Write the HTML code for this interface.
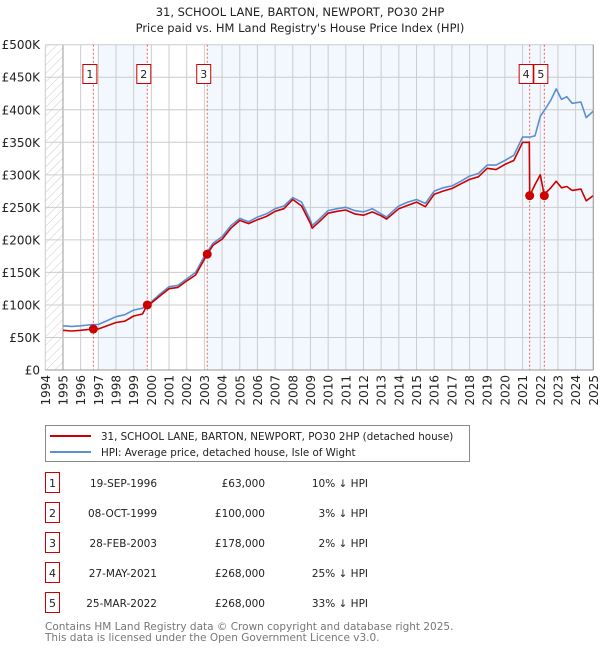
<!DOCTYPE html>
<html><head><meta charset="utf-8"><style>
body{margin:0;background:#fff;width:600px;height:650px;overflow:hidden;font-family:"Liberation Sans","DejaVu Sans",sans-serif;}
svg{position:absolute;left:0;top:0}
</style></head><body>
<svg id="c" width="600" height="650" xmlns="http://www.w3.org/2000/svg" font-family="DejaVu Sans, Liberation Sans, sans-serif">
<defs><pattern id="hatch" width="6" height="6" patternUnits="userSpaceOnUse" patternTransform="rotate(45)"><line x1="0" y1="0" x2="0" y2="6" stroke="#ccc" stroke-width="1"/></pattern></defs>
<text x="300" y="16" text-anchor="middle" font-size="11.5" fill="#222">31, SCHOOL LANE, BARTON, NEWPORT, PO30 2HP</text>
<text x="300" y="32" text-anchor="middle" font-size="11.5" fill="#222">Price paid vs. HM Land Registry's House Price Index (HPI)</text>
<g id="plot"></g>
<g>
<rect x="45.5" y="425.5" width="424" height="36" fill="#fff" stroke="#888"/>
<line x1="50" y1="436" x2="91" y2="436" stroke="#cc0000" stroke-width="2"/>
<text x="101" y="440" font-size="10.3" fill="#222">31, SCHOOL LANE, BARTON, NEWPORT, PO30 2HP (detached house)</text>
<line x1="50" y1="452" x2="91" y2="452" stroke="#5b8fd4" stroke-width="2"/>
<text x="101" y="456" font-size="10.3" fill="#222">HPI: Average price, detached house, Isle of Wight</text>
</g>
<g id="table"></g>
<text x="45" y="630" font-size="10.5" fill="#777">Contains HM Land Registry data © Crown copyright and database right 2025.</text>
<text x="45" y="641" font-size="10.5" fill="#777">This data is licensed under the Open Government Licence v3.0.</text>
</svg>
<script>
const hpiDates=[1995.0,1995.5,1996,1996.7,1997,1997.5,1998,1998.5,1999,1999.5,1999.8,2000,2000.5,2001,2001.5,2002,2002.5,2003,2003.5,2004,2004.5,2005,2005.5,2006,2006.5,2007,2007.5,2008,2008.5,2009,2009.1,2009.5,2010,2010.5,2011,2011.5,2012,2012.5,2013,2013.3,2013.7,2014,2014.5,2015,2015.5,2016,2016.5,2017,2017.5,2018,2018.5,2019,2019.5,2020,2020.5,2021,2021.4,2021.7,2022,2022.3,2022.6,2022.9,2023.2,2023.5,2023.8,2024.3,2024.6,2025];
const hpiValues=[68000,67000,68000,70000,70000,76000,82000,85000,92000,95000,100000,105000,117000,128000,130000,140000,150000,175000,195000,205000,222000,233000,228000,235000,240000,248000,252000,265000,258000,230000,222000,232000,245000,248000,250000,245000,243000,248000,240000,235000,245000,252000,258000,262000,256000,275000,280000,283000,290000,298000,302000,315000,315000,322000,330000,358000,358000,360000,390000,402000,415000,432000,416000,420000,410000,412000,388000,398000];
const priceDates=[1995.0,1995.5,1996,1996.72,1997,1997.5,1998,1998.5,1999,1999.5,1999.77,2000,2000.5,2001,2001.5,2002,2002.5,2003.16,2003.5,2004,2004.5,2005,2005.5,2006,2006.5,2007,2007.5,2008,2008.5,2009,2009.1,2009.5,2010,2010.5,2011,2011.5,2012,2012.5,2013,2013.3,2013.7,2014,2014.5,2015,2015.5,2016,2016.5,2017,2017.5,2018,2018.5,2019,2019.5,2020,2020.5,2021,2021.38,2021.4,2021.7,2022.0,2022.23,2022.3,2022.6,2022.9,2023.2,2023.5,2023.8,2024.3,2024.6,2025];
const priceValues=[61000,60000,61000,63000,63000,68000,73000,75000,83000,86000,100000,103000,114000,125000,127000,137000,146000,178000,192000,201000,218000,230000,225000,231000,236000,244000,248000,262000,252000,225000,218000,228000,241000,244000,246000,240000,238000,243000,237000,232000,241000,248000,253000,258000,251000,270000,275000,279000,286000,293000,297000,310000,308000,316000,322000,350000,350000,268000,285000,300000,268000,272000,280000,290000,280000,282000,276000,278000,260000,268000];
const saleDates=[1996.72,1999.77,2003.16,2021.4,2022.23];
const salePrices=[63000,100000,178000,268000,268000];
const saleLabels=["1","2","3","4","5"];
const saleDateText=["19-SEP-1996","08-OCT-1999","28-FEB-2003","27-MAY-2021","25-MAR-2022"];
const salePriceText=["£63,000","£100,000","£178,000","£268,000","£268,000"];
const saleHpiText=["10% ↓ HPI","3% ↓ HPI","2% ↓ HPI","25% ↓ HPI","33% ↓ HPI"];
const yTicks=[0,50000,100000,150000,200000,250000,300000,350000,400000,450000,500000];
const yTickLabels=["£0","£50K","£100K","£150K","£200K","£250K","£300K","£350K","£400K","£450K","£500K"];
const xYears=[1994,1995,1996,1997,1998,1999,2000,2001,2002,2003,2004,2005,2006,2007,2008,2009,2010,2011,2012,2013,2014,2015,2016,2017,2018,2019,2020,2021,2022,2023,2024,2025];

const NS="http://www.w3.org/2000/svg";
const X0=45.3,X1=593.3,Y0=370,Y1=44.7;
const xs=y=>X0+(y-1994)/(2025-1994)*(X1-X0);
const ys=v=>Y0-v/500000*(Y0-Y1);
const plot=document.getElementById('plot');
function mk(tag,attrs,parent){const e=document.createElementNS(NS,tag);for(const k in attrs)e.setAttribute(k,attrs[k]);(parent||plot).appendChild(e);return e;}

let bg=mk('rect',{x:X0,y:Y1,width:X1-X0,height:Y0-Y1,fill:'#fff'});


let h=mk('rect',{x:X0,y:Y1,width:xs(1995)-X0,height:Y0-Y1,fill:'url(#hatch)'});


let s1=mk('rect',{x:xs(1997),y:Y1,width:xs(saleDates[1])-xs(1997),height:Y0-Y1,fill:'#f3f7fe'});


let s2=mk('rect',{x:xs(saleDates[2]),y:Y1,width:X1-xs(saleDates[2]),height:Y0-Y1,fill:'#f3f7fe'});



xYears.forEach((yr,i)=>{
  let l=mk('line',{x1:xs(yr),x2:xs(yr),y1:Y1,y2:Y0,stroke:yr==1995?'#999':'#ccc','stroke-width':1});
  
  
  let t=mk('text',{x:0,y:0,'font-size':12,fill:'#222','text-anchor':'end',transform:`translate(${xs(yr)+4.5},${Y0+5}) rotate(-90)`});
  t.textContent=yr;
  
  
});
yTicks.forEach((v,i)=>{
  let l=mk('line',{x1:X0,x2:X1,y1:ys(v),y2:ys(v),stroke:'#ccc','stroke-width':1});
  
  
  let t=mk('text',{x:40,y:ys(v)+4.5,'font-size':12,fill:'#222','text-anchor':'end'});
  t.textContent=yTickLabels[i];
  
  
});
saleDates.forEach((d,i)=>{
  let l=mk('line',{x1:xs(d),x2:xs(d),y1:Y1,y2:Y0,stroke:'#f06060','stroke-width':1,'stroke-dasharray':'2,2'});
  
  
});
function path(dx,vy,col,name){
  let d=dx.map((x,i)=>(i?'L':'M')+xs(x).toFixed(1)+','+ys(vy[i]).toFixed(1)).join('');
  let p=mk('path',{d:d,fill:'none',stroke:col,'stroke-width':1.6,'stroke-linejoin':'round'});
  
  
}
path(hpiDates,hpiValues,'#5b8fd4','hpi-line');
path(priceDates,priceValues,'#cc0000','price-line');
saleDates.forEach((d,i)=>{
  let c=mk('circle',{cx:xs(d),cy:ys(salePrices[i]),r:4.5,fill:'#cc0000'});
  
  
  let g=mk('g',{});
  
  
  let bx=xs(d)-10.5;
  mk('rect',{x:bx,y:64.5,width:14,height:19,fill:'#fff',stroke:'#cc0000','stroke-width':1},g);
  let t=mk('text',{x:bx+7,y:78,'font-size':11,'text-anchor':'middle',fill:'#222'},g);
  t.textContent=saleLabels[i];
});
let ax=mk('line',{x1:X0,x2:X1,y1:Y0,y2:Y0,stroke:'#999'});


let ax2=mk('line',{x1:X1,x2:X1,y1:Y1,y2:Y0,stroke:'#999'});



const tb=document.getElementById('table');
saleLabels.forEach((lab,i)=>{
  const cy=483+i*30;
  let g=mk('g',{},tb);
  
  
  mk('rect',{x:45.5,y:cy-10.5,width:14,height:20,fill:'#fff',stroke:'#cc0000'},g);
  let t=mk('text',{x:52.5,y:cy+4,'font-size':11,'text-anchor':'middle',fill:'#222'},g);t.textContent=lab;
  t=mk('text',{x:157,y:cy+4,'font-size':10.5,'text-anchor':'end',fill:'#222'},g);t.textContent=saleDateText[i];
  t=mk('text',{x:265,y:cy+4,'font-size':10.5,'text-anchor':'end',fill:'#222'},g);t.textContent=salePriceText[i];
  t=mk('text',{x:368,y:cy+4,'font-size':10.5,'text-anchor':'end',fill:'#222'},g);t.textContent=saleHpiText[i];
});
</script>
</body></html>
